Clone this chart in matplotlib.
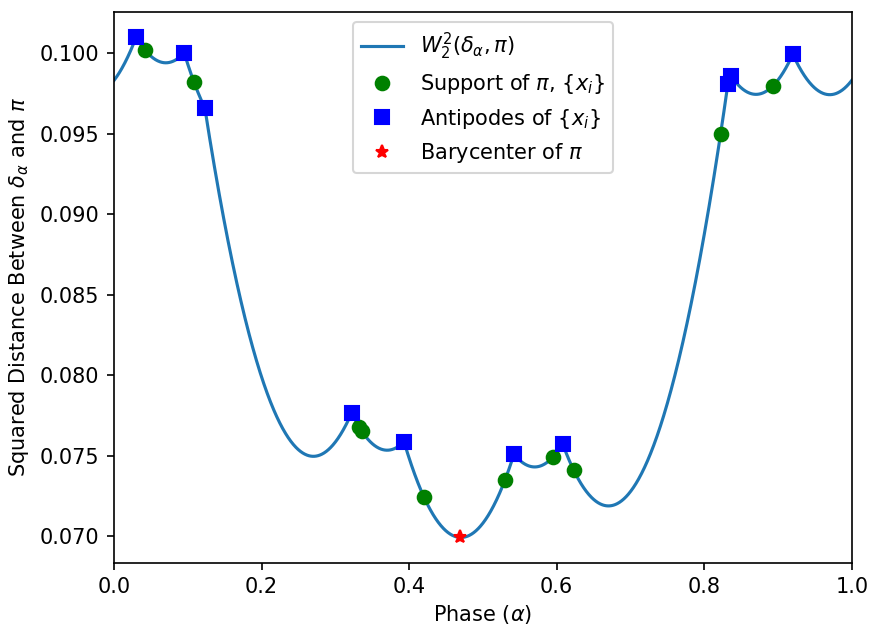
import numpy as np
import matplotlib
matplotlib.use("Agg")
import matplotlib.pyplot as plt

# support of pi (uniform weights)
support = [0.042, 0.108, 0.332, 0.336, 0.420, 0.530, 0.595, 0.623, 0.822, 0.893]
weights = [0.1] * 10
barycenter = 0.469


def circ_dist(a, b):
    d = np.abs(np.asarray(a) - b) % 1.0
    return np.minimum(d, 1.0 - d)


def frechet(a):
    a = np.atleast_1d(a)
    return sum(w * circ_dist(a, x) ** 2 for x, w in zip(support, weights))


alpha = np.linspace(0, 1, 2001)
antipodes = [(x + 0.5) % 1.0 for x in support]

fig, ax = plt.subplots(figsize=(871 / 150, 625 / 150), dpi=150)
ax.plot(alpha, frechet(alpha), color="C0", lw=1.5, label=r"$W_2^2(\delta_\alpha,\pi)$")
ax.plot(support, frechet(support), "go", ms=6.5, ls="none", label=r"Support of $\pi$, $\{x_i\}$")
ax.plot(antipodes, frechet(antipodes), "bs", ms=6.5, ls="none", label=r"Antipodes of $\{x_i\}$")
ax.plot([barycenter], frechet(barycenter), "r*", ms=6.5, ls="none", label=r"Barycenter of $\pi$")
ax.set_xlim(0, 1)
ax.set_xlabel(r"Phase ($\alpha$)", labelpad=3)
ax.set_ylabel(r"Squared Distance Between $\delta_\alpha$ and $\pi$")
ax.legend(loc="upper center")
plt.subplots_adjust(left=0.131, right=0.978, top=0.981, bottom=0.1)
plt.savefig("out.png")
